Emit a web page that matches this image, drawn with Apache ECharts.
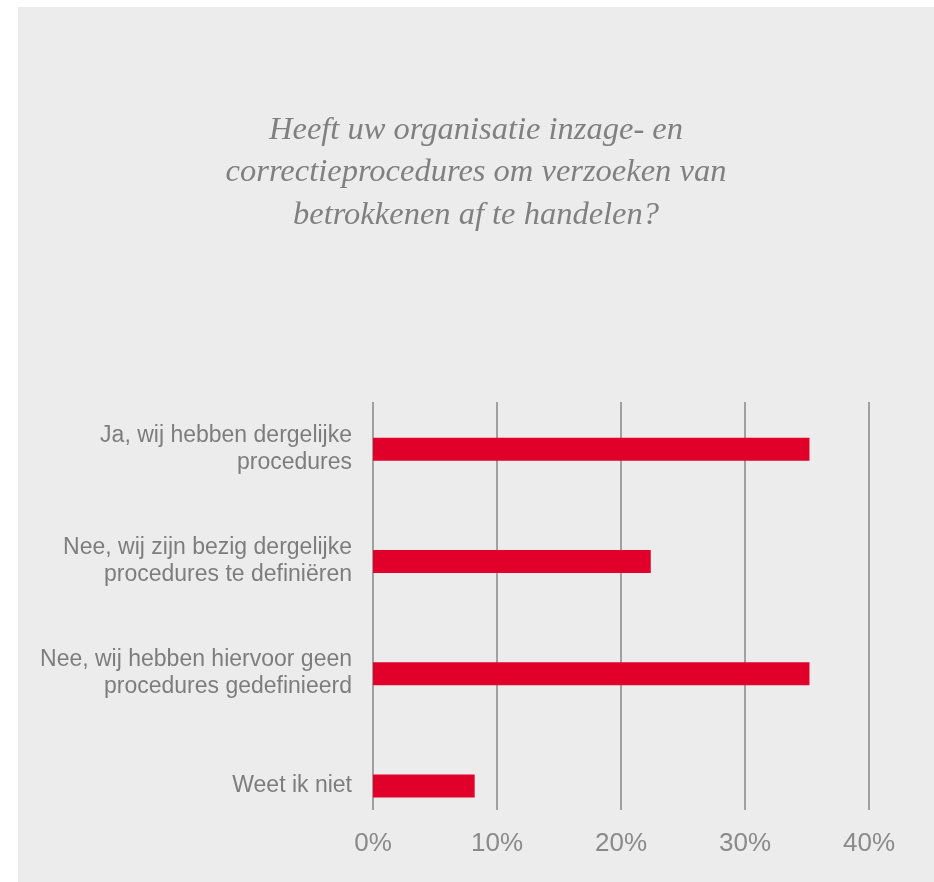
<!DOCTYPE html>
<html>
<head>
<meta charset="utf-8">
<script src="https://cdn.jsdelivr.net/npm/echarts@6/dist/echarts.min.js"></script>
<style>
  html, body { margin: 0; padding: 0; background: #ffffff; }
  #chart { position: absolute; left: 18px; top: 7px; width: 916px; height: 875px; }
</style>
</head>
<body>
<div id="chart"></div>
<script>
// Survey answers and the share of respondents (%) per answer
const titleText = 'Heeft uw organisatie inzage- en\ncorrectieprocedures om verzoeken van\nbetrokkenen af te handelen?';
const categories = [
  'Ja, wij hebben dergelijke\nprocedures',
  'Nee, wij zijn bezig dergelijke\nprocedures te definiëren',
  'Nee, wij hebben hiervoor geen\nprocedures gedefinieerd',
  'Weet ik niet'
];
const shares = [35.2, 22.4, 35.2, 8.2];
const axisMax = 40;
const axisStep = 10;

const chart = echarts.init(document.getElementById('chart'), null, { renderer: 'canvas' });

const sans = "'Liberation Sans', Arial, sans-serif";
const plotLeft = 355;
const plotWidth = 496;

chart.setOption({
  backgroundColor: '#ebeceb',
  animation: false,
  title: {
    text: titleText,
    left: 453,
    top: 97,
    textAlign: 'center',
    textStyle: {
      fontFamily: "'Liberation Serif', serif",
      fontStyle: 'italic',
      fontWeight: 'normal',
      fontSize: 32.5,
      lineHeight: 42.5,
      color: '#808080'
    }
  },
  grid: [
    // bars
    { left: plotLeft, width: plotWidth, top: 386, height: 449, containLabel: false },
    // vertical gridlines and percentage scale
    { left: plotLeft, width: plotWidth, top: 395, height: 408, containLabel: false }
  ],
  xAxis: [
    {
      gridIndex: 0, type: 'value', min: 0, max: axisMax, interval: axisStep,
      show: false
    },
    {
      gridIndex: 1, type: 'value', min: 0, max: axisMax, interval: axisStep,
      axisLine: { show: false },
      axisTick: { show: false },
      splitLine: { show: true, lineStyle: { color: '#8e8e8e', width: 1.6 } },
      axisLabel: {
        margin: 21,
        fontFamily: sans,
        fontSize: 26,
        color: '#8a8a8a',
        formatter: v => v + '%'
      }
    }
  ],
  yAxis: [
    {
      gridIndex: 0, type: 'category', data: categories, inverse: true,
      axisLine: { show: false },
      axisTick: { show: false },
      splitLine: { show: false },
      axisLabel: {
        margin: 21,
        fontFamily: sans,
        fontSize: 23,
        lineHeight: 27,
        color: '#7d7d7d',
        align: 'right'
      }
    },
    {
      gridIndex: 1, type: 'category', data: categories,
      show: false
    }
  ],
  series: [
    {
      type: 'bar',
      xAxisIndex: 0,
      yAxisIndex: 0,
      data: shares,
      barWidth: 23,
      itemStyle: { color: '#e1002a' },
      z: 5
    }
  ]
});
</script>
</body>
</html>
